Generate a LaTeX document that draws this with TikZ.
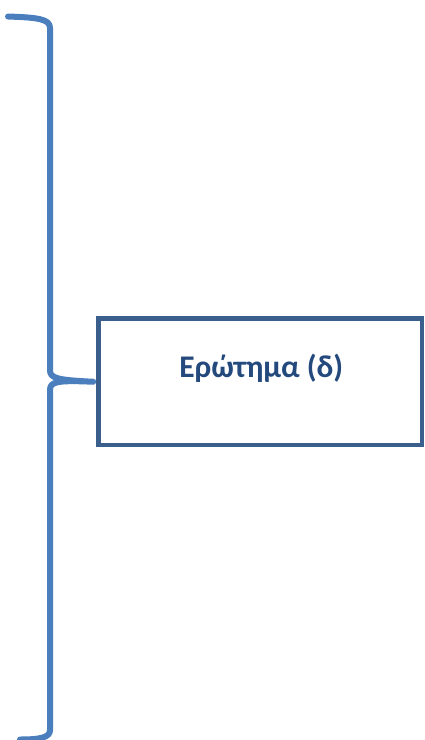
\documentclass[tikz,border=0pt]{standalone}
\usepackage{fontspec}
\setmainfont{Carlito}
\definecolor{bracecol}{HTML}{4A7EBD}
\definecolor{boxcol}{HTML}{3A5F8D}
\definecolor{textcol}{HTML}{23497D}
\tikzset{
  bracestyle/.style={draw=bracecol,line width=6pt,line cap=round,line join=round},
  boxstyle/.style={draw=boxcol,line width=4.5pt,fill=white,minimum width=323.5pt,minimum height=126.5pt,inner sep=0pt},
  labelstyle/.style={text=textcol,font=\fontsize{31.5}{38}\selectfont\bfseries,inner sep=0pt}
}
\begin{document}
\begin{tikzpicture}[x=1pt,y=-1pt]
\useasboundingbox (0,0) rectangle (425,740);
\node[boxstyle] (box) at (260.25,381.75) {};
\node[labelstyle] (lbl) at ([xshift=1pt,yshift=13pt]box.center) {Ερώτημα (δ)};
\coordinate (top) at (8,16.5);
\coordinate (bot) at (20,739.5);
\coordinate (tip) at ([xshift=-3pt]box.west);
\draw[bracestyle] (top) .. controls (38,17.5) and (50,19) .. (50,28)
  -- (50,370) .. controls (50,378) and (56,380) .. (tip)
  .. controls (56,380) and (50,382) .. (50,390)
  -- (50,730) .. controls (50,737) and (42,739.5) .. (bot);
\end{tikzpicture}
\end{document}
